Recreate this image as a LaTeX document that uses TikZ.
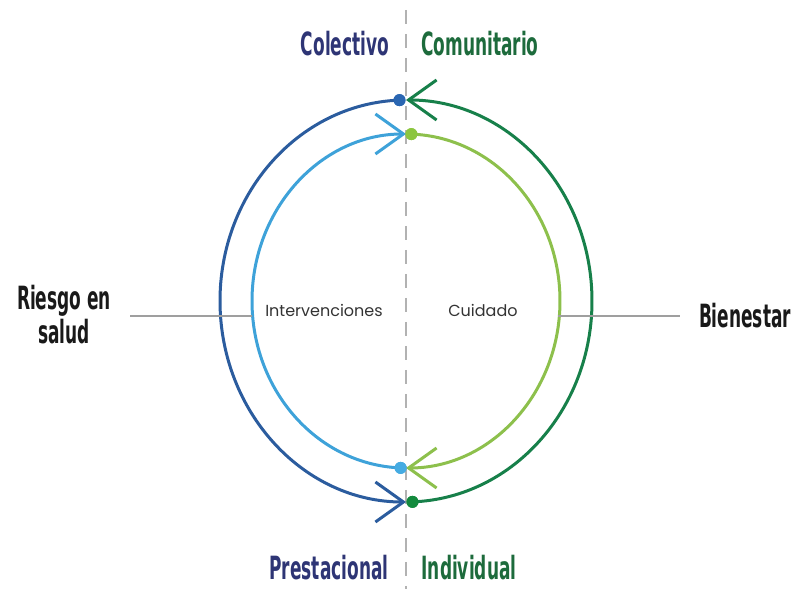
\documentclass[tikz,border=0pt]{standalone}
\usepackage{fontspec}
\setmainfont{DejaVu Sans Condensed}
\newfontfamily\thinfont{Poppins}
\usepackage{tikz}
\usetikzlibrary{arrows.meta}
\usetikzlibrary{calc}
\definecolor{navytxt}{HTML}{2E3575}
\definecolor{greentxt}{HTML}{1D6B3C}
\definecolor{outerblue}{HTML}{2B5C9E}
\definecolor{innerblue}{HTML}{3EA2D9}
\definecolor{outergreen}{HTML}{17804A}
\definecolor{innergreen}{HTML}{8DC04C}
\definecolor{dotblue}{HTML}{2A66B2}
\definecolor{dotlight}{HTML}{45ABE2}
\definecolor{dotlime}{HTML}{8CC63F}
\definecolor{dotgreen}{HTML}{138A3D}
\tikzset{lbl/.style={font=\fontsize{16}{17}\selectfont\bfseries, xscale=0.59, transform shape, inner sep=0pt}}
\tikzset{thin/.style={font=\thinfont\fontsize{8}{9}\selectfont, text=black!80, inner sep=0pt}}
\tikzset{ring/.style={line width=1.5pt}}
\tikzset{openarrow/.style={-{Straight Barb[length=14pt,width=20pt,line width=1.5pt]}}}
\tikzset{dot/.style={circle, inner sep=0pt, minimum size=6pt}}
\tikzset{axisline/.style={gray!75, line width=1pt}}

\begin{document}
\begin{tikzpicture}[x=0.5pt, y=0.5pt]
          \useasboundingbox (0,0) rectangle (799,589);
          \coordinate (C) at (406,288);
          % dashed axis
          \coordinate (axtop) at (406,579);
          \coordinate (axbot) at (406,0);
          \draw[gray!60, line width=1pt, dash pattern=on 7pt off 5pt] (axtop) -- (axbot);
          % dots on the rings
          \node[dot, fill=dotblue] (topblue) at ($(C)+(92:186 and 201)$) {};
          \node[dot, fill=dotgreen] (botgreen) at ($(C)+(-88:186 and 201)$) {};
          \node[dot, fill=dotlime] (toplime) at ($(C)+(88:154 and 167)$) {};
          \node[dot, fill=dotlight] (botlight) at ($(C)+(268:154 and 167)$) {};
          % rings
          \draw[ring, outerblue, openarrow] (topblue.center) arc[start angle=92, end angle=270, x radius=186, y radius=201];
          \draw[ring, outergreen, openarrow] (botgreen.center) arc[start angle=-88, end angle=90, x radius=186, y radius=201];
          \draw[ring, innergreen, openarrow] (toplime.center) arc[start angle=88, end angle=-90, x radius=154, y radius=167];
          \draw[ring, innerblue, openarrow] (botlight.center) arc[start angle=268, end angle=90, x radius=154, y radius=167];
          \node[dot, fill=dotblue] at (topblue) {};
          \node[dot, fill=dotgreen] at (botgreen) {};
          \node[dot, fill=dotlime] at (toplime) {};
          \node[dot, fill=dotlight] at (botlight) {};
          % labels
          \node[lbl, text=navytxt] (colectivo) at (345,545) {Colectivo};
          \node[lbl, text=greentxt] (comunitario) at (480,545) {Comunitario};
          \node[lbl, text=navytxt] (prestacional) at (329,21) {Prestacional};
          \node[lbl, text=greentxt] (individual) at (469,21) {Individual};
          \node[lbl, text=black!90, align=center] (riesgo) at (64,274) {Riesgo en\\salud};
          \node[lbl, text=black!90] (bienestar) at (745,273) {Bienestar};
          \node[thin] (interv) at (324,279) {Intervenciones};
          \node[thin] (cuidado) at (483,279) {Cuidado};
          % side lines
          \coordinate (lstart) at (130,273);
          \coordinate (lend) at (252,273);
          \coordinate (rstart) at (558,273);
          \coordinate (rend) at (680,273);
          \draw[axisline] (lstart) -- (lend);
          \draw[axisline] (rstart) -- (rend);
        \end{tikzpicture}
\end{document}
